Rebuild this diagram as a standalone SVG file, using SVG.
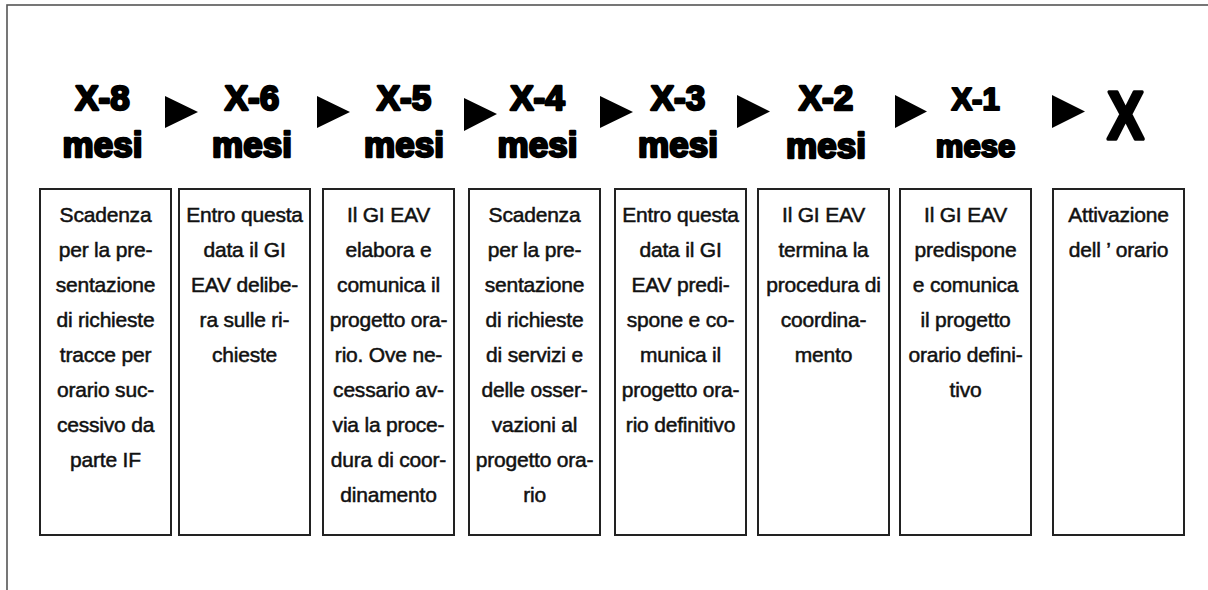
<svg xmlns="http://www.w3.org/2000/svg" width="1208" height="590" viewBox="0 0 1208 590">
<style>
.hd{font-family:"Liberation Sans",Arial,sans-serif;font-weight:700;font-size:35px;fill:#000;stroke:#000;stroke-width:2.4;stroke-linejoin:round;text-anchor:middle}
.hs{font-size:31px;stroke-width:2.2}
.box{fill:#fff;stroke:#222;stroke-width:2}
.tx{font-family:"Liberation Sans",Arial,sans-serif;font-size:21px;letter-spacing:-0.2px;fill:#111;stroke:#111;stroke-width:0.5;text-anchor:middle}
.arr{fill:#000}
</style>
<rect x="0" y="0" width="1208" height="590" fill="#fff"/>
<rect x="7" y="5" width="1220" height="620" fill="none" stroke="#555" stroke-width="1.6"/>
<g id="connectors">
<polygon class="arr" points="165,96 198,112 165,128"/>
<polygon class="arr" points="317,96 350,112 317,128"/>
<polygon class="arr" points="464,98 497,114 464,131"/>
<polygon class="arr" points="600,96 633,112 600,128"/>
<polygon class="arr" points="737,95 770,111.5 737,128"/>
<polygon class="arr" points="895,95 927,111.5 895,128"/>
<polygon class="arr" points="1052,95 1085,111.5 1052,128"/>
</g>
<g id="n1">
<text class="hd" x="102.5" y="110">X-8</text><text class="hd" x="102.5" y="157">mesi</text>
<rect class="box" x="40" y="189" width="131" height="346"/>
<text class="tx" x="105.5" y="222">Scadenza</text>
<text class="tx" x="105.5" y="257">per la pre-</text>
<text class="tx" x="105.5" y="292">sentazione</text>
<text class="tx" x="105.5" y="327">di richieste</text>
<text class="tx" x="105.5" y="362">tracce per</text>
<text class="tx" x="105.5" y="397">orario suc-</text>
<text class="tx" x="105.5" y="432">cessivo da</text>
<text class="tx" x="105.5" y="467">parte IF</text>
</g>
<g id="n2">
<text class="hd" x="252" y="110">X-6</text><text class="hd" x="252" y="157">mesi</text>
<rect class="box" x="179" y="189" width="131" height="346"/>
<text class="tx" x="244.5" y="222">Entro questa</text>
<text class="tx" x="244.5" y="257">data il GI</text>
<text class="tx" x="244.5" y="292">EAV delibe-</text>
<text class="tx" x="244.5" y="327">ra sulle ri-</text>
<text class="tx" x="244.5" y="362">chieste</text>
</g>
<g id="n3">
<text class="hd" x="404" y="110">X-5</text><text class="hd" x="404" y="157">mesi</text>
<rect class="box" x="323" y="189" width="131" height="346"/>
<text class="tx" x="388.5" y="222">Il GI EAV</text>
<text class="tx" x="388.5" y="257">elabora e</text>
<text class="tx" x="388.5" y="292">comunica il</text>
<text class="tx" x="388.5" y="327">progetto ora-</text>
<text class="tx" x="388.5" y="362">rio. Ove ne-</text>
<text class="tx" x="388.5" y="397">cessario av-</text>
<text class="tx" x="388.5" y="432">via la proce-</text>
<text class="tx" x="388.5" y="467">dura di coor-</text>
<text class="tx" x="388.5" y="502">dinamento</text>
</g>
<g id="n4">
<text class="hd" x="537.5" y="110">X-4</text><text class="hd" x="537.5" y="157">mesi</text>
<rect class="box" x="469" y="189" width="131" height="346"/>
<text class="tx" x="534.5" y="222">Scadenza</text>
<text class="tx" x="534.5" y="257">per la pre-</text>
<text class="tx" x="534.5" y="292">sentazione</text>
<text class="tx" x="534.5" y="327">di richieste</text>
<text class="tx" x="534.5" y="362">di servizi e</text>
<text class="tx" x="534.5" y="397">delle osser-</text>
<text class="tx" x="534.5" y="432">vazioni al</text>
<text class="tx" x="534.5" y="467">progetto ora-</text>
<text class="tx" x="534.5" y="502">rio</text>
</g>
<g id="n5">
<text class="hd" x="678" y="110">X-3</text><text class="hd" x="678" y="157">mesi</text>
<rect class="box" x="615" y="189" width="131" height="346"/>
<text class="tx" x="680.5" y="222">Entro questa</text>
<text class="tx" x="680.5" y="257">data il GI</text>
<text class="tx" x="680.5" y="292">EAV predi-</text>
<text class="tx" x="680.5" y="327">spone e co-</text>
<text class="tx" x="680.5" y="362">munica il</text>
<text class="tx" x="680.5" y="397">progetto ora-</text>
<text class="tx" x="680.5" y="432">rio definitivo</text>
</g>
<g id="n6">
<text class="hd" x="826" y="110">X-2</text><text class="hd" x="826" y="158">mesi</text>
<rect class="box" x="758" y="189" width="131" height="346"/>
<text class="tx" x="823.5" y="222">Il GI EAV</text>
<text class="tx" x="823.5" y="257">termina la</text>
<text class="tx" x="823.5" y="292">procedura di</text>
<text class="tx" x="823.5" y="327">coordina-</text>
<text class="tx" x="823.5" y="362">mento</text>
</g>
<g id="n7">
<text class="hd hs" x="975.5" y="110">X-1</text><text class="hd hs" x="975.5" y="157">mese</text>
<rect class="box" x="900" y="189" width="131" height="346"/>
<text class="tx" x="965.5" y="222">Il GI EAV</text>
<text class="tx" x="965.5" y="257">predispone</text>
<text class="tx" x="965.5" y="292">e comunica</text>
<text class="tx" x="965.5" y="327">il progetto</text>
<text class="tx" x="965.5" y="362">orario defini-</text>
<text class="tx" x="965.5" y="397">tivo</text>
</g>
<g id="n8">
<text class="hd" transform="translate(1125.5,139) scale(1,1.25)" x="0" y="0" style="font-size:55px;stroke-width:2.8">X</text>
<rect class="box" x="1053" y="189" width="131" height="346"/>
<text class="tx" x="1118.5" y="222">Attivazione</text>
<text class="tx" x="1118.5" y="257">dell ’ orario</text>
</g>
</svg>
